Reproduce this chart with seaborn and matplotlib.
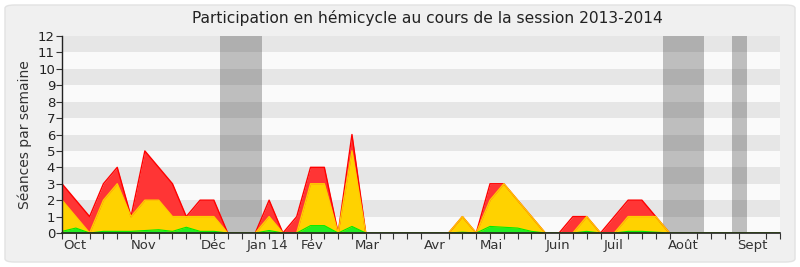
import numpy as np
import pandas as pd
import matplotlib
matplotlib.use("Agg")
import matplotlib.pyplot as plt
from matplotlib.patches import FancyBboxPatch
import seaborn as sns

# ---- data (weekly, session 2013-2014) ----
weeks = list(range(53))
total = [3, 2, 1, 3, 4, 1, 5, 4, 3, 1, 2, 2, 0, 0, 0, 2, 0, 1, 4, 4,
         0, 6, 0, 0, 0, 0, 0, 0, 0, 1, 0, 3, 3, 2, 1, 0, 0, 1, 1, 0,
         1, 2, 2, 1, 0, 0, 0, 0, 0, 0, 0, 0, 0]
present = [2, 1, 0, 2, 3, 1, 2, 2, 1, 1, 1, 1, 0, 0, 0, 1, 0, 0, 3, 3,
           0, 5, 0, 0, 0, 0, 0, 0, 0, 1, 0, 2, 3, 2, 1, 0, 0, 0, 1, 0,
           0, 1, 1, 1, 0, 0, 0, 0, 0, 0, 0, 0, 0]
active = [0.1, 0.3, 0, 0.1, 0.1, 0.1, 0.15, 0.2, 0.1, 0.35, 0.1, 0.1, 0, 0, 0, 0.15, 0, 0, 0.45, 0.45,
          0, 0.4, 0, 0, 0, 0, 0, 0, 0, 0.05, 0, 0.4, 0.35, 0.3, 0.1, 0, 0, 0, 0.1, 0,
          0, 0.1, 0.1, 0.05, 0, 0, 0, 0, 0, 0, 0, 0, 0]
month_labels = ["Oct", "Nov", "Déc", "Jan 14", "Fév", "Mar", "Avr", "Mai", "Juin", "Juil", "Août", "Sept"]
month_pos = [0.95, 5.9, 10.95, 14.9, 18.1, 22.1, 27.0, 31.1, 35.9, 39.95, 45.0, 50.0]
vacations = [(11.45, 14.5), (43.5, 46.5), (48.5, 49.6)]

df = pd.DataFrame({"semaine": weeks, "total": total, "present": present, "active": active})

sns.set_theme(style="ticks")
plt.rcParams["font.family"] = ["DejaVu Sans"]

fig = plt.figure(figsize=(8, 2.67), dpi=100, facecolor="white")
bg = FancyBboxPatch((5 / 800, 5 / 267), 790 / 800, 257 / 267,
                    boxstyle="round,pad=0,rounding_size=0.012",
                    transform=fig.transFigure, facecolor="#f0f0f0",
                    edgecolor="#e2e2e2", lw=1, zorder=-10)
fig.patches.append(bg)
ax = fig.add_axes([62 / 800, 1 - 233 / 267, 718 / 800, 197 / 267])
ax.set_zorder(1)
ax.set_facecolor("#fafafa")

for k in range(12):
    if k % 2 == 1:
        ax.axhspan(k, k + 1, color="#e6e6e6", lw=0, zorder=0)
for a, b in vacations:
    ax.axvspan(a, b, color="black", alpha=0.24, lw=0, zorder=1)

ax.fill_between(df["semaine"], df["total"], color="#ff3535", lw=0, zorder=2)
ax.fill_between(df["semaine"], df["present"], color="#ffd200", lw=0, zorder=3)
ax.fill_between(df["semaine"], df["active"], color="#22ee22", lw=0, zorder=4)
sns.lineplot(data=df, x="semaine", y="total", color="#ff0000", lw=1, ax=ax, zorder=5)
sns.lineplot(data=df, x="semaine", y="present", color="#ffcc00", lw=1, ax=ax, zorder=5)
sns.lineplot(data=df, x="semaine", y="active", color="#00ee00", lw=0.8, ax=ax, zorder=5)

ax.set_xlim(0, 52)
ax.set_ylim(0, 12)
ax.set_yticks(range(13))
ax.set_yticklabels([str(v) for v in range(13)], fontsize=9.5, color="#222222")
ax.set_xticks(month_pos)
ax.set_xticklabels(month_labels, fontsize=9.5, color="#333333")
ax.set_xticks(np.arange(0, 53, 1), minor=True)
ax.tick_params(axis="x", which="major", bottom=True, length=0, pad=4)
ax.tick_params(axis="x", which="minor", bottom=True, length=4, width=0.8, color="#333333", direction="out")
ax.tick_params(axis="y", which="major", left=True, length=4, width=0.8, color="#333333", direction="out", pad=1)
ax.set_xlabel("")
ax.set_ylabel("Séances par semaine", fontsize=10, color="#333333", labelpad=4)
for s in ["top", "right"]:
    ax.spines[s].set_visible(False)
ax.spines["left"].set_color("#222222")
ax.spines["bottom"].set_color("#222222")
ax.spines["left"].set_linewidth(1)
ax.spines["bottom"].set_linewidth(1.2)
ax.spines["left"].set_zorder(6)
ax.spines["bottom"].set_zorder(6)

fig.text(427 / 800, 1 - 18 / 267, "Participation en hémicycle au cours de la session 2013-2014",
         ha="center", va="center", fontsize=11.2, color="#222222")

fig.savefig("out.png", dpi=100, facecolor=fig.get_facecolor())
